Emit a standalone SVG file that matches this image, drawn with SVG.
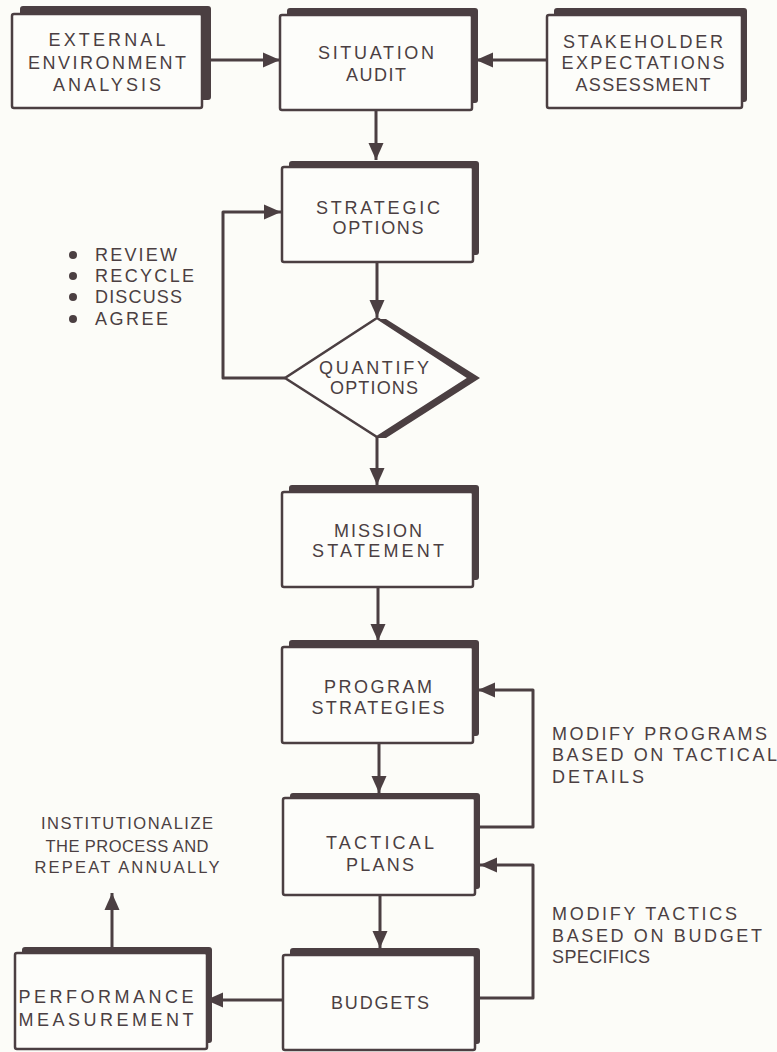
<svg xmlns="http://www.w3.org/2000/svg" width="777" height="1052" viewBox="0 0 777 1052">
<defs>
<style>
.bg{fill:#fcfcf8}
.sh{fill:#4b3f42}
.bx{fill:#fdfdfa;stroke:#4b3f42;stroke-width:2.5}
.t{font-family:"Liberation Sans",Arial,Helvetica,sans-serif;font-size:18px;fill:#4b3f42;text-anchor:middle}
.s{font-size:16.5px}
.l{font-family:"Liberation Sans",Arial,Helvetica,sans-serif;font-size:18px;fill:#4b3f42;text-anchor:start}
.c{fill:none;stroke:#4b3f42;stroke-width:3;stroke-linejoin:round}
</style>
<marker id="ah" markerUnits="userSpaceOnUse" markerWidth="17" markerHeight="17" refX="17" refY="8.5" orient="auto">
<path d="M0,1 L17,8.5 L0,16 z" fill="#4b3f42"/>
</marker>
</defs>
<rect class="bg" x="0" y="0" width="777" height="1052"/>

<g id="connectors">
<path class="c" d="M202,60 L280,60" marker-end="url(#ah)"/>
<path class="c" d="M547,60 L476,60" marker-end="url(#ah)"/>
<path class="c" d="M376,110 L376,160" marker-end="url(#ah)"/>
<path class="c" d="M285,378 L223,378 L223,212 L281,212" marker-end="url(#ah)"/>
<path class="c" d="M377,262 L377,317" marker-end="url(#ah)"/>
<path class="c" d="M377,437 L377,485" marker-end="url(#ah)"/>
<path class="c" d="M378,587 L378,641" marker-end="url(#ah)"/>
<path class="c" d="M379,743 L379,793" marker-end="url(#ah)"/>
<path class="c" d="M380,895 L380,948" marker-end="url(#ah)"/>
<path class="c" d="M283,1000 L206,1000" marker-end="url(#ah)"/>
<path class="c" d="M112,947 L112,893" marker-end="url(#ah)"/>
<path class="c" d="M476,827 L533,827 L533,690 L478,690" marker-end="url(#ah)"/>
<path class="c" d="M476,998 L533,998 L533,865 L480,865" marker-end="url(#ah)"/>
</g>

<g id="external">
<rect class="sh" x="20" y="6" width="191" height="94" rx="3"/>
<rect class="bx" x="12" y="14" width="190" height="94" rx="2"/>
<text class="t" x="107" y="46" textLength="117" lengthAdjust="spacing">EXTERNAL</text>
<text class="t" x="107" y="69" textLength="158" lengthAdjust="spacing">ENVIRONMENT</text>
<text class="t" x="107" y="91" textLength="108" lengthAdjust="spacing">ANALYSIS</text>
</g>

<g id="situation">
<rect class="sh" x="287" y="8" width="191" height="95" rx="3"/>
<rect class="bx" x="280" y="15" width="192" height="95" rx="2"/>
<text class="t" x="376" y="59" textLength="116" lengthAdjust="spacing">SITUATION</text>
<text class="t" x="376" y="81" textLength="60" lengthAdjust="spacing">AUDIT</text>
</g>

<g id="stakeholder">
<rect class="sh" x="554" y="8" width="193" height="94" rx="3"/>
<rect class="bx" x="547" y="15" width="195" height="93" rx="2"/>
<text class="t" x="643" y="48" textLength="160" lengthAdjust="spacing">STAKEHOLDER</text>
<text class="t" x="643" y="69" textLength="163" lengthAdjust="spacing">EXPECTATIONS</text>
<text class="t" x="643" y="91" textLength="135" lengthAdjust="spacing">ASSESSMENT</text>
</g>

<g id="strategic">
<rect class="sh" x="289" y="161" width="190" height="94" rx="3"/>
<rect class="bx" x="282" y="167" width="191" height="95" rx="2"/>
<text class="t" x="378" y="214" textLength="124" lengthAdjust="spacing">STRATEGIC</text>
<text class="t" x="378" y="234" textLength="91" lengthAdjust="spacing">OPTIONS</text>
</g>

<g id="bullets">
<circle cx="73" cy="255" r="4" fill="#4b3f42"/>
<circle cx="73" cy="276" r="4" fill="#4b3f42"/>
<circle cx="73" cy="297" r="4" fill="#4b3f42"/>
<circle cx="73" cy="319" r="4" fill="#4b3f42"/>
<text class="l" x="95" y="261" textLength="82" lengthAdjust="spacing">REVIEW</text>
<text class="l" x="95" y="282" textLength="99" lengthAdjust="spacing">RECYCLE</text>
<text class="l" x="95" y="303" textLength="87" lengthAdjust="spacing">DISCUSS</text>
<text class="l" x="95" y="325" textLength="73" lengthAdjust="spacing">AGREE</text>
</g>

<g id="quantify">
<polygon class="sh" points="386,319 480,378 386,438 376,438 470,378 376,319"/>
<polygon class="bx" points="377,318 469,378 377,437 285,378"/>
<text class="t" x="374" y="374" textLength="110" lengthAdjust="spacing">QUANTIFY</text>
<text class="t" x="374" y="394" textLength="88" lengthAdjust="spacing">OPTIONS</text>
</g>

<g id="mission">
<rect class="sh" x="289" y="485" width="190" height="95" rx="3"/>
<rect class="bx" x="282" y="492" width="191" height="95" rx="2"/>
<text class="t" x="378" y="537" textLength="88" lengthAdjust="spacing">MISSION</text>
<text class="t" x="378" y="557" textLength="132" lengthAdjust="spacing">STATEMENT</text>
</g>

<g id="program">
<rect class="sh" x="289" y="640" width="190" height="96" rx="3"/>
<rect class="bx" x="282" y="647" width="191" height="96" rx="2"/>
<text class="t" x="378" y="693" textLength="108" lengthAdjust="spacing">PROGRAM</text>
<text class="t" x="378" y="714" textLength="133" lengthAdjust="spacing">STRATEGIES</text>
</g>

<g id="tactical">
<rect class="sh" x="290" y="793" width="190" height="96" rx="3"/>
<rect class="bx" x="283" y="798" width="192" height="97" rx="2"/>
<text class="t" x="380" y="849" textLength="108" lengthAdjust="spacing">TACTICAL</text>
<text class="t" x="380" y="871" textLength="68" lengthAdjust="spacing">PLANS</text>
</g>

<g id="budgets">
<rect class="sh" x="290" y="948" width="190" height="96" rx="3"/>
<rect class="bx" x="283" y="955" width="192" height="95" rx="2"/>
<text class="t" x="380" y="1009" textLength="98" lengthAdjust="spacing">BUDGETS</text>
</g>

<g id="performance">
<rect class="sh" x="22" y="947" width="190" height="96" rx="3"/>
<rect class="bx" x="15" y="953" width="192" height="96" rx="2"/>
<text class="t" x="106" y="1003" textLength="175" lengthAdjust="spacing">PERFORMANCE</text>
<text class="t" x="106" y="1026" textLength="175" lengthAdjust="spacing">MEASUREMENT</text>
</g>

<g id="label-institutionalize">
<text class="t s" x="127" y="829" textLength="172" lengthAdjust="spacing">INSTITUTIONALIZE</text>
<text class="t s" x="127" y="852" textLength="163" lengthAdjust="spacing">THE PROCESS AND</text>
<text class="t s" x="127" y="873" textLength="185" lengthAdjust="spacing">REPEAT ANNUALLY</text>
</g>

<g id="label-programs">
<text class="l" x="552" y="740" textLength="215" lengthAdjust="spacing">MODIFY PROGRAMS</text>
<text class="l" x="552" y="761" textLength="225" lengthAdjust="spacing">BASED ON TACTICAL</text>
<text class="l" x="552" y="783" textLength="92" lengthAdjust="spacing">DETAILS</text>
</g>

<g id="label-tactics">
<text class="l" x="552" y="920" textLength="185" lengthAdjust="spacing">MODIFY TACTICS</text>
<text class="l" x="552" y="942" textLength="210" lengthAdjust="spacing">BASED ON BUDGET</text>
<text class="l" x="552" y="963" textLength="98" lengthAdjust="spacing">SPECIFICS</text>
</g>
</svg>
